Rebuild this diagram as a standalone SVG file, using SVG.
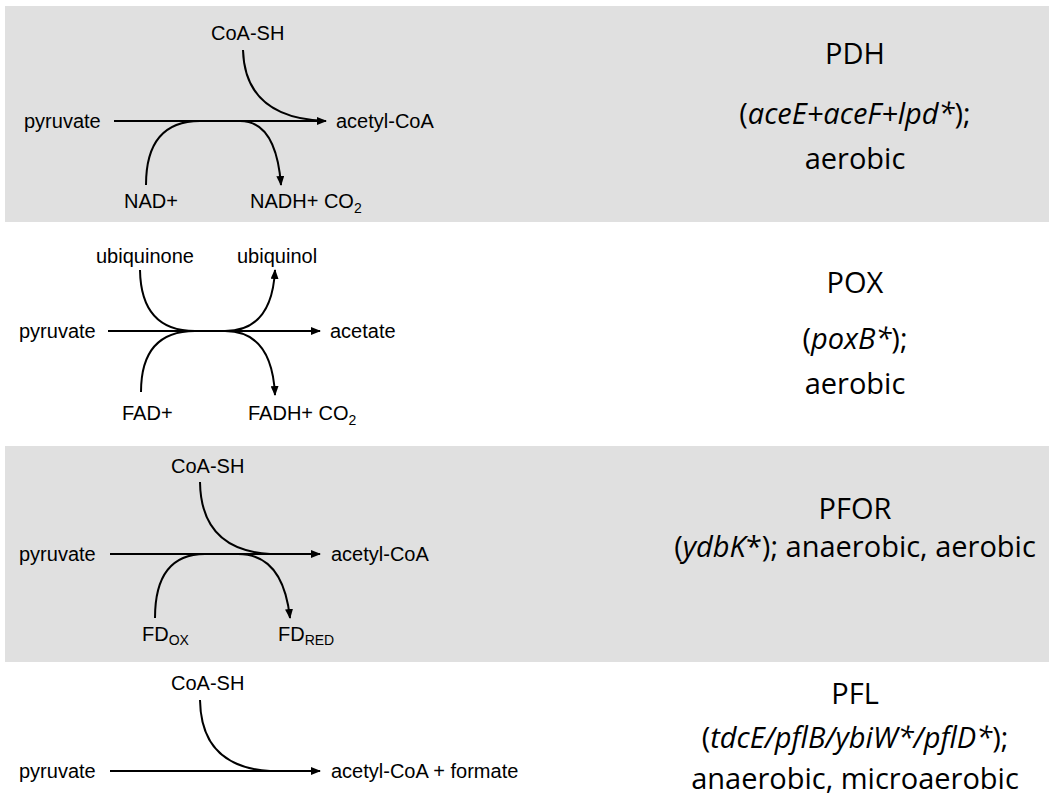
<svg xmlns="http://www.w3.org/2000/svg" width="1049" height="800" viewBox="0 0 1049 800">
<defs><marker id="a" markerWidth="10" markerHeight="8" refX="9" refY="4" orient="auto" markerUnits="userSpaceOnUse"><path d="M0,0 L10,4 L0,8 Z" fill="#000"/></marker></defs>
<style>
.t{font-family:"Liberation Sans",Arial,sans-serif;font-size:20px;fill:#000}
.s{font-size:14px}
.r{font-family:"Open Sans","Liberation Sans",sans-serif;font-size:29px;fill:#000;text-anchor:middle}
.l{fill:none;stroke:#000;stroke-width:2}
</style>
<rect x="5" y="6" width="1044" height="216" fill="#e0e0e0"/>
<rect x="5" y="446" width="1044" height="216" fill="#e0e0e0"/>
<g id="connectors">
<path class="l" d="M114,121 H326" marker-end="url(#a)"/>
<path class="l" d="M243,50 Q245,118 325,121"/>
<path class="l" d="M146,185 Q146,121 200,121 H240 Q276,121 281,185" marker-end="url(#a)"/>
<path class="l" d="M108,331 H320" marker-end="url(#a)"/>
<path class="l" d="M140,270 Q141,331 195,331 H225 Q272,331 275,270" marker-end="url(#a)"/>
<path class="l" d="M141,392 Q141,331 195,331 M225,331 Q272,331 275,395" marker-end="url(#a)"/>
<path class="l" d="M110,554 H320" marker-end="url(#a)"/>
<path class="l" d="M200,482 Q201,550 270,554"/>
<path class="l" d="M155,618 Q155,554 205,554 H238 Q283,554 290,618" marker-end="url(#a)"/>
<path class="l" d="M110,771 H320" marker-end="url(#a)"/>
<path class="l" d="M200,700 Q201,767 270,771"/>
</g>
<g id="pdh">
<text class="t" x="24" y="128">pyruvate</text>
<text class="t" x="336" y="128">acetyl-CoA</text>
<text class="t" x="211" y="40">CoA-SH</text>
<text class="t" x="124" y="208">NAD+</text>
<text class="t" x="250" y="208">NADH+ CO<tspan class="s" dy="5">2</tspan></text>
<text class="r" x="855" y="64">PDH</text>
<text class="r" x="855" y="124">(<tspan font-style="italic">aceE+aceF+lpd*</tspan>);</text>
<text class="r" x="855" y="169">aerobic</text>
</g>
<g id="pox">
<text class="t" x="19" y="338">pyruvate</text>
<text class="t" x="330" y="338">acetate</text>
<text class="t" x="96" y="263">ubiquinone</text>
<text class="t" x="237" y="263">ubiquinol</text>
<text class="t" x="122" y="420">FAD+</text>
<text class="t" x="248" y="420">FADH+ CO<tspan class="s" dy="5">2</tspan></text>
<text class="r" x="855" y="293">POX</text>
<text class="r" x="855" y="349">(<tspan font-style="italic">poxB*</tspan>);</text>
<text class="r" x="855" y="394">aerobic</text>
</g>
<g id="pfor">
<text class="t" x="19" y="561">pyruvate</text>
<text class="t" x="331" y="561">acetyl-CoA</text>
<text class="t" x="171" y="473">CoA-SH</text>
<text class="t" x="142" y="641">FD<tspan class="s" dy="4">OX</tspan></text>
<text class="t" x="278" y="641">FD<tspan class="s" dy="4">RED</tspan></text>
<text class="r" x="855" y="519">PFOR</text>
<text class="r" x="855" y="557">(<tspan font-style="italic">ydbK</tspan>*); anaerobic, aerobic</text>
</g>
<g id="pfl">
<text class="t" x="19" y="778">pyruvate</text>
<text class="t" x="331" y="778">acetyl-CoA + formate</text>
<text class="t" x="171" y="690">CoA-SH</text>
<text class="r" x="855" y="704">PFL</text>
<text class="r" x="855" y="748">(<tspan font-style="italic">tdcE/pflB/ybiW*/pflD*</tspan>);</text>
<text class="r" x="855" y="789">anaerobic, microaerobic</text>
</g>
</svg>
